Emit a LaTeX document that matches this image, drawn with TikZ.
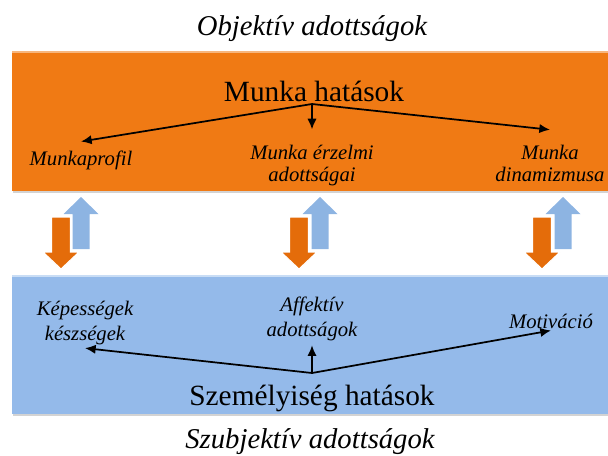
\documentclass[tikz,border=0pt]{standalone}
\usepackage{fontspec}
\setmainfont{Liberation Serif}
\usepackage{xcolor}
\usepackage{tikz}
\usetikzlibrary{arrows.meta,shadows}

\definecolor{workorange}{RGB}{240,122,20}
\definecolor{pushorange}{RGB}{228,108,10}
\definecolor{selfblue}{RGB}{148,186,234}
\definecolor{pushblue}{RGB}{141,180,226}

\begin{document}
\begin{tikzpicture}[x=0.75pt,y=-0.75pt,
    headline/.style={font=\fontsize{21.5}{24}\selectfont\itshape,anchor=base},
    effect/.style={font=\fontsize{22}{24}\selectfont,anchor=base},
    factor/.style={font=\fontsize{15.5}{16.5}\selectfont\itshape,align=center,inner sep=0pt,anchor=base},
    link/.style={line width=1.3pt,-{Latex[length=8pt,width=7pt]}},
    panel/.style={drop shadow={opacity=0.35,shadow xshift=0.8pt,shadow yshift=-1.5pt}}]
    \useasboundingbox (0,0) rectangle (608,455);
    % Panels
    \fill[workorange,panel] (12,51) rectangle (608,191);
    \fill[workorange!55!white] (12,51) rectangle (608,53);
    \fill[selfblue,panel]   (12,275) rectangle (608,414);
    \fill[selfblue!50!white] (12,275) rectangle (608,277);
    % Titles
    \node[headline] (objtitle)  at (312,35)  {Objektív adottságok};
    \node[headline] (szubtitle) at (310,448) {Szubjektív adottságok};
    % Work side (base = last line)
    \node[effect] (munka) at (314,101) {Munka hatások};
    \coordinate (msrc) at (312,104);
    \node[factor] (profil)   at (81,165)  {Munkaprofil};
    \node[factor] (erzelmi)  at (312,181) {Munka érzelmi\\adottságai};
    \node[factor] (dinamika) at (550,181) {Munka\\dinamizmusa};
    \draw[link] (msrc) -- ([yshift=6.5pt]profil.north);
    \draw[link] (msrc) -- ([yshift=11.25pt]erzelmi.north);
    \draw[link] (msrc) -- ([yshift=11pt]dinamika.north);
    % Personality side
    \node[effect] (szemely) at (312,405) {Személyiség hatások};
    \coordinate (ssrc) at (312,373);
    \node[factor] (kepesseg)  at (85,340)  {Képességek\\[2pt]készségek};
    \node[factor] (affektiv)  at (312,336) {Affektív\\[2pt]adottságok};
    \node[factor] (motivacio) at (551,328) {Motiváció};
    \draw[link] (ssrc) -- ([yshift=-2.6pt]kepesseg.south);
    \draw[link] (ssrc) -- ([yshift=-3.4pt]affektiv.south);
    \draw[link] (ssrc) -- ([yshift=-1.5pt]motivacio.south);
    % Block arrows between the panels
    \foreach \bx/\ox in {81/61,320/299,563/542} {
        \fill[pushblue] (\bx,197) -- ({\bx+17.5},214) -- ({\bx+8.5},214) -- ({\bx+8.5},249)
            -- ({\bx-8.5},249) -- ({\bx-8.5},214) -- ({\bx-17.5},214) -- cycle;
        \filldraw[pushorange,draw=white,line width=0.8pt] (\ox,269) -- ({\ox+18},252) -- ({\ox+9.5},252)
            -- ({\ox+9.5},217) -- ({\ox-9.5},217) -- ({\ox-9.5},252) -- ({\ox-18},252) -- cycle;
    }
\end{tikzpicture}
\end{document}
